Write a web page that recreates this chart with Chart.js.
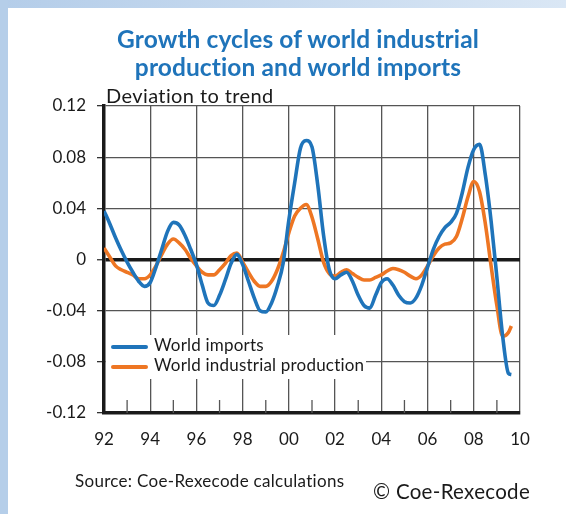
<!DOCTYPE html>
<html>
<head>
<meta charset="utf-8">
<script src="https://cdn.jsdelivr.net/npm/chart.js@4.4.1/dist/chart.umd.min.js"></script>
<style>
  html, body { margin: 0; padding: 0; }
  #wrap { position: relative; width: 566px; height: 514px; overflow: hidden;
          background: linear-gradient(to right, #b4cde9, #dae7f5); font-family: Lato, "Open Sans", sans-serif; }
  #panel { position: absolute; left: 8px; top: 8px; right: 0; bottom: 0; background: #fff; }
  #leftband { position: absolute; left: 0; top: 0; width: 8px; bottom: 0; background: #b5cee9; }
  canvas { position: absolute; left: 0; top: 0; }
  #title { position: absolute; left: 88px; width: 420px; top: 25px; text-align: center;
           color: #1f74ba; font-weight: 700; font-size: 24.5px; line-height: 28px; letter-spacing: 0.1px; }
  #sub { position: absolute; left: 106px; top: 83px; font-size: 20px; letter-spacing: 0.4px; color: #1a1a1a; }
  #legend { position: absolute; left: 106px; top: 335px; width: 260px; height: 44px; background: #fff; }
  .row { position: absolute; left: 0; height: 20px; font-size: 17px; letter-spacing: 0.2px; color: #1a1a1a; line-height: 20px; white-space: nowrap; }
  .sw { display: inline-block; width: 37px; height: 4px; border-radius: 2px; margin-left: 5px; margin-right: 6px; vertical-align: middle; }
  #source { position: absolute; left: 75px; top: 470px; font-size: 17px; letter-spacing: 0.3px; color: #1a1a1a; }
  #copy { position: absolute; left: 373px; top: 479px; font-size: 20.5px; letter-spacing: 0.3px; color: #1a1a1a; }
</style>
</head>
<body>
<div id="wrap">
  <div id="panel"></div>
  <div id="leftband"></div>
  <canvas id="c" width="566" height="514"></canvas>
  <div id="title">Growth cycles of world industrial<br>production and world imports</div>
  <div id="sub">Deviation to trend</div>
  <div id="legend"></div>
  <div id="source">Source: Coe-Rexecode calculations</div>
  <div id="copy">© Coe-Rexecode</div>
</div>
<script>
// ---- data (decimal years, deviation to trend) ----
const dates = [
  1992.00,1992.25,1992.50,1992.75,1993.00,1993.25,1993.50,1993.75,
  1994.00,1994.25,1994.50,1994.75,1995.00,1995.25,1995.50,1995.75,
  1996.00,1996.25,1996.50,1996.75,1997.00,1997.25,1997.50,1997.75,
  1998.00,1998.25,1998.50,1998.75,1999.00,1999.25,1999.50,1999.75,
  2000.00,2000.25,2000.50,2000.75,2001.00,2001.25,2001.50,2001.75,
  2002.00,2002.25,2002.50,2002.75,2003.00,2003.25,2003.50,2003.75,
  2004.00,2004.25,2004.50,2004.75,2005.00,2005.25,2005.50,2005.75,
  2006.00,2006.25,2006.50,2006.75,2007.00,2007.25,2007.50,2007.75,
  2008.00,2008.25,2008.50,2008.75,2009.00,2009.25,2009.50,2009.625
];
const imports = [
  0.038,0.028,0.017,0.007,-0.002,-0.010,-0.017,-0.021,
  -0.018,-0.006,0.008,0.022,0.029,0.027,0.019,0.008,
  -0.004,-0.020,-0.034,-0.036,-0.028,-0.016,-0.003,0.004,
  -0.004,-0.017,-0.030,-0.040,-0.041,-0.034,-0.021,-0.003,
  0.031,0.060,0.087,0.093,0.088,0.058,0.019,-0.008,
  -0.015,-0.012,-0.010,-0.017,-0.028,-0.036,-0.038,-0.028,
  -0.018,-0.015,-0.020,-0.028,-0.033,-0.034,-0.030,-0.020,
  -0.006,0.008,0.018,0.025,0.029,0.036,0.052,0.072,
  0.086,0.090,0.066,0.030,-0.014,-0.060,-0.089,-0.090
];
const production = [
  0.009,0.002,-0.005,-0.008,-0.010,-0.012,-0.015,-0.015,
  -0.012,-0.005,0.004,0.012,0.016,0.013,0.008,0.001,
  -0.005,-0.010,-0.012,-0.012,-0.008,-0.003,0.003,0.005,
  -0.002,-0.010,-0.017,-0.021,-0.021,-0.017,-0.008,0.005,
  0.021,0.034,0.040,0.043,0.033,0.016,-0.002,-0.011,
  -0.013,-0.010,-0.008,-0.011,-0.014,-0.016,-0.016,-0.014,
  -0.012,-0.009,-0.007,-0.008,-0.010,-0.013,-0.015,-0.012,
  -0.005,0.003,0.009,0.012,0.013,0.018,0.032,0.049,
  0.061,0.053,0.028,-0.005,-0.036,-0.060,-0.057,-0.052
];
const seriesNames = ["World imports", "World industrial production"];
const seriesColors = ["#1f74ba", "#ee7623"];
const yTickLabels = ["-0.12", "-0.08", "-0.04", "0", "0.04", "0.08", "0.12"];
const xTickLabels = ["92", "94", "96", "98", "00", "02", "04", "06", "08", "10"];

// ---- HTML legend ----
const legend = document.getElementById('legend');
seriesNames.forEach((n, i) => {
  const r = document.createElement('div');
  r.className = 'row';
  r.style.top = (i === 0 ? 0 : 20) + 'px';
  r.innerHTML = '<span class="sw" style="background:' + seriesColors[i] + '"></span>' + n;
  legend.appendChild(r);
});

const GRID = '#555555';
const minorTicks = {
  id: 'minorTicks',
  beforeDatasetsDraw(chart) {
    const x = chart.scales.x, ctx = chart.ctx, b = chart.chartArea.bottom;
    ctx.save();
    ctx.strokeStyle = GRID; ctx.lineWidth = 1.3;
    for (let yr = 1993; yr < 2010; yr += 2) {
      const px = x.getPixelForValue(yr);
      ctx.beginPath(); ctx.moveTo(px, b); ctx.lineTo(px, b - 13); ctx.stroke();
    }
    ctx.restore();
  }
};

const mk = (arr) => dates.map((d, i) => ({ x: d, y: arr[i] }));

new Chart(document.getElementById('c'), {
  type: 'line',
  data: {
    datasets: [
      { label: seriesNames[0], data: mk(imports), borderColor: seriesColors[0], borderWidth: 3.6,
        pointRadius: 0, cubicInterpolationMode: 'monotone', fill: false },
      { label: seriesNames[1], data: mk(production), borderColor: seriesColors[1], borderWidth: 3.6,
        pointRadius: 0, cubicInterpolationMode: 'monotone', fill: false }
    ]
  },
  options: {
    responsive: false,
    animation: false,
    layout: { padding: { left: 44, right: 46, top: 106, bottom: 61 } },
    plugins: { legend: { display: false }, tooltip: { enabled: false } },
    scales: {
      x: {
        type: 'linear', min: 1992, max: 2010,
        afterFit: (s) => { s.height = 40; },
        ticks: {
          stepSize: 1, autoSkip: false, maxRotation: 0, padding: 16,
          color: '#1a1a1a', font: { family: 'Lato', size: 17 },
          callback: (v) => (v % 2 === 0 ? xTickLabels[(v - 1992) / 2] : '')
        },
        grid: {
          drawTicks: false,
          color: (c) => (c.tick && c.tick.value % 2 === 0 ? GRID : 'rgba(0,0,0,0)'),
          lineWidth: 1.3
        },
        border: { color: '#1a1a1a', width: 3.5 }
      },
      y: {
        min: -0.12, max: 0.12,
        afterFit: (s) => { s.width = 60; },
        ticks: {
          stepSize: 0.04, padding: 11,
          color: '#1a1a1a', font: { family: 'Lato', size: 17 },
          callback: (v, i) => yTickLabels[i]
        },
        grid: {
          color: (c) => (c.tick && Math.abs(c.tick.value) < 1e-9 ? '#1a1a1a' : GRID),
          lineWidth: (c) => (c.tick && Math.abs(c.tick.value) < 1e-9 ? 3.5 : 1.3),
          tickLength: 7, tickColor: '#333', tickWidth: 1.3
        },
        border: { color: '#1a1a1a', width: 3.5 }
      }
    }
  },
  plugins: [minorTicks]
});
</script>
</body>
</html>
